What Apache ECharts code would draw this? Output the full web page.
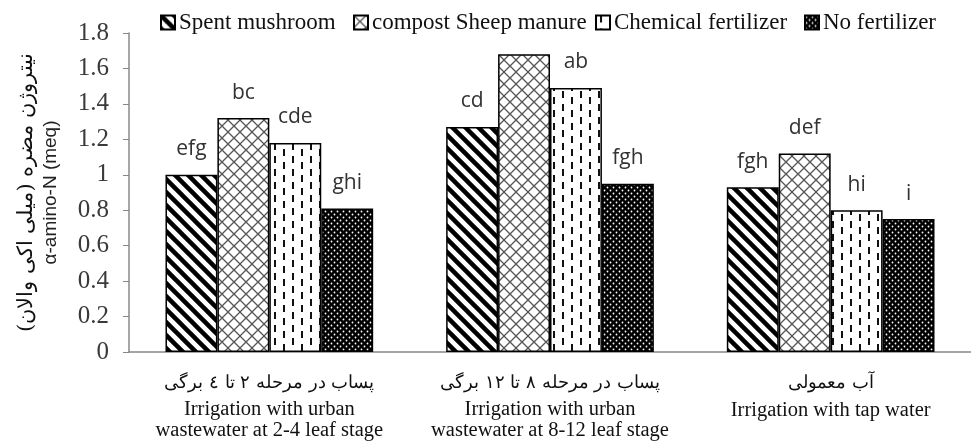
<!DOCTYPE html>
<html>
<head>
<meta charset="utf-8">
<script src="https://cdn.jsdelivr.net/npm/echarts@6/dist/echarts.min.js"></script>
<style>
html, body { margin: 0; padding: 0; background: #fff; }
#main { width: 971px; height: 446px; }
</style>
</head>
<body>
<div id="main"></div>
<script>
var categoriesFa = ['پساب در مرحله ۲ تا ٤ برگی', 'پساب در مرحله ۸ تا ۱۲ برگی', 'آب معمولی'];
var categoriesEn = ['Irrigation with urban\nwastewater at 2-4 leaf stage', 'Irrigation with urban\nwastewater at 8-12 leaf stage', 'Irrigation with tap water'];
var seriesNames = ['Spent mushroom', 'compost Sheep manure', 'Chemical fertilizer', 'No fertilizer'];
var spentMushroom = [1.0, 1.27, 0.93];
var sheepManure = [1.32, 1.68, 1.12];
var chemical = [1.18, 1.49, 0.80];
var noFertilizer = [0.81, 0.95, 0.75];
var lettersSpent = ['efg', 'cd', 'fgh'];
var lettersSheep = ['bc', '', 'def'];
var lettersChem = ['cde', 'ab', 'hi'];
var lettersNo = ['ghi', 'fgh', 'i'];
var yTicks = { min: 0, max: 1.8, interval: 0.2 };
var legendLeft = [155, 348, 590, 799];

// patterns
function tile(w, h, draw) {
    var c = document.createElement('canvas');
    c.width = w; c.height = h;
    var ctx = c.getContext('2d');
    draw(ctx, w, h);
    return c;
}
var stripes = tile(13, 13, function (ctx, w, h) {
    ctx.fillStyle = '#fff'; ctx.fillRect(0, 0, w, h);
    ctx.strokeStyle = '#000'; ctx.lineWidth = 4.5;
    for (var k = -1; k <= 1; k++) {
        ctx.beginPath();
        ctx.moveTo(k * w - 3, -3);
        ctx.lineTo(k * w + w + 3, h + 3);
        ctx.stroke();
    }
});
var cross = tile(12, 12, function (ctx, w, h) {
    ctx.fillStyle = '#fff'; ctx.fillRect(0, 0, w, h);
    ctx.strokeStyle = '#555'; ctx.lineWidth = 1.3;
    for (var k = -1; k <= 1; k++) {
        ctx.beginPath();
        ctx.moveTo(k * w - 2, -2); ctx.lineTo(k * w + w + 2, h + 2);
        ctx.moveTo(k * w - 2, h + 2); ctx.lineTo(k * w + w + 2, -2);
        ctx.stroke();
    }
});
var dashes = tile(18, 13, function (ctx, w, h) {
    ctx.fillStyle = '#fff'; ctx.fillRect(0, 0, w, h);
    ctx.fillStyle = '#111';
    ctx.fillRect(4, 0, 2, 7);
    ctx.fillRect(13, 6, 2, 7);
});
var dots = tile(6, 6, function (ctx, w, h) {
    ctx.fillStyle = '#000'; ctx.fillRect(0, 0, w, h);
    ctx.fillStyle = '#fff';
    ctx.beginPath(); ctx.arc(1.5, 1.5, 0.9, 0, Math.PI * 2); ctx.fill();
    ctx.beginPath(); ctx.arc(4.5, 4.5, 0.9, 0, Math.PI * 2); ctx.fill();
});

function makeSeries(name, data, letters, img) {
    return {
        name: name,
        type: 'bar',
        data: data,
        barGap: '0%',
        barCategoryGap: '26%',
        itemStyle: {
            color: { image: img, repeat: 'repeat' },
            borderColor: '#000',
            borderWidth: 1.5
        },
        label: {
            show: true,
            position: 'top',
            distance: 15,
            fontFamily: 'Open Sans',
            fontSize: 21,
            color: '#333',
            formatter: function (p) { return letters[p.dataIndex]; }
        }
    };
}

function makeLegend(i) {
    return {
        left: legendLeft[i],
        top: 6,
        itemWidth: 14,
        itemHeight: 14,
        icon: 'rect',
        textStyle: {
            fontFamily: "'Liberation Serif', serif",
            fontSize: 23,
            color: '#111',
            padding: [0, 0, 0, -1]
        },
        data: [seriesNames[i]]
    };
}

var myChart = echarts.init(document.getElementById('main'), null, {renderer: 'canvas'});

option = {
    animation: false,
    legend: [makeLegend(0), makeLegend(1), makeLegend(2), makeLegend(3)],
    grid: {
        left: 129,
        top: 33,
        width: 854,
        height: 319,
        containLabel: false
    },
    xAxis: {
        type: 'category',
        data: categoriesFa,
        axisLine: { lineStyle: { color: '#888', width: 1.5 } },
        axisTick: { length: 6, lineStyle: { color: '#888' } },
        axisLabel: {
            margin: 16,
            formatter: function (v, i) {
                var s = i === 2 ? '3' : '';
                var en = categoriesEn[i].split('\n').map(function (t) { return '{en' + s + '|' + t + '}'; }).join('\n');
                return '{fa' + s + '|' + v + '}\n' + en;
            },
            rich: {
                fa: { fontFamily: "'DejaVu Serif', serif", fontSize: 18, lineHeight: 31, color: '#111' },
                en: { fontFamily: "'Liberation Serif', serif", fontSize: 20.5, lineHeight: 21, color: '#111' },
                fa3: { fontFamily: "'DejaVu Serif', serif", fontSize: 18, lineHeight: 31, color: '#111' },
                en3: { fontFamily: "'Liberation Serif', serif", fontSize: 20.5, lineHeight: 24, color: '#111' }
            }
        }
    },
    yAxis: {
        type: 'value',
        min: yTicks.min,
        max: yTicks.max,
        interval: yTicks.interval,
        splitLine: { show: false },
        axisLine: { show: true, lineStyle: { color: '#888', width: 1.5 } },
        axisTick: { show: true, length: 6, lineStyle: { color: '#888' } },
        axisLabel: {
            margin: 20,
            fontFamily: "'Liberation Serif', serif",
            fontSize: 25,
            color: '#3a3a3a'
        },
        name: '{fa|نیتروژن مضره (میلی اکی والان)}\n{en|α-amino-N (meq)}',
        nameLocation: 'middle',
        nameRotate: 90,
        nameGap: 66,
        nameTextStyle: {
            rich: {
                fa: { fontFamily: "'DejaVu Serif', serif", fontSize: 21, lineHeight: 24, color: '#111' },
                en: { fontFamily: "'Liberation Sans', sans-serif", fontSize: 19, lineHeight: 24, color: '#222' }
            }
        }
    },
    series: [
        makeSeries(seriesNames[0], spentMushroom, lettersSpent, stripes),
        makeSeries(seriesNames[1], sheepManure, lettersSheep, cross),
        makeSeries(seriesNames[2], chemical, lettersChem, dashes),
        makeSeries(seriesNames[3], noFertilizer, lettersNo, dots)
    ]
};

myChart.setOption(option);
</script>
</body>
</html>
